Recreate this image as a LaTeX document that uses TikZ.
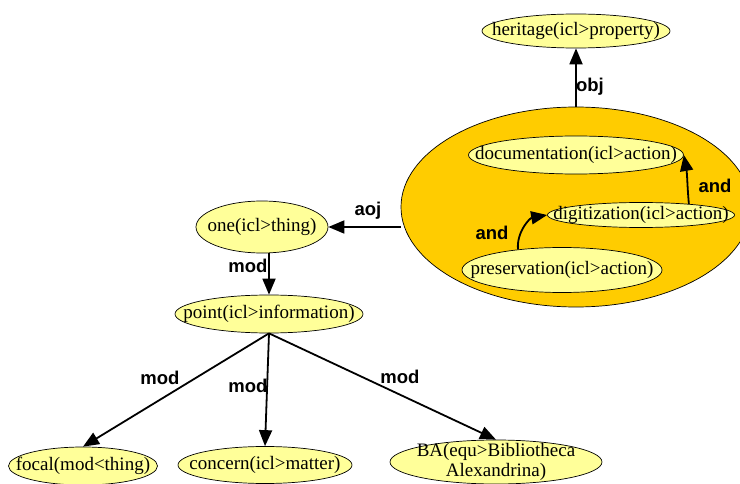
\documentclass[tikz,border=0pt]{standalone}
\usepackage{fontspec}
\setmainfont{Liberation Serif}
\newfontfamily\lblfont{Liberation Sans}
\usetikzlibrary{shapes.geometric,arrows.meta}
\definecolor{nodeyellow}{HTML}{FFFF99}
\definecolor{groupgold}{HTML}{FFCC00}
\tikzset{
  uw/.style={ellipse, draw=black, line width=0.7pt, fill=nodeyellow, inner sep=0pt},
  uwtext/.style={inner sep=0pt, align=center, font=\fontsize{19}{20.5}\selectfont},
  grp/.style={ellipse, draw=black, line width=0.7pt, fill=groupgold, inner sep=0pt},
  arr/.style={line width=1.8pt, -{Triangle[length=16pt,width=13pt]}},
  rel/.style={font=\lblfont\bfseries\fontsize{18.5}{19}\selectfont, inner sep=0pt}
}
\begin{document}
\begin{tikzpicture}[x=1pt,y=-1pt]
\useasboundingbox (0,0) rectangle (740,484);
\fill[white] (0,0) rectangle (740,484);

% compound group
\node[grp, minimum width=350pt, minimum height=200pt] (group) at (576,207) {};

% concept nodes (fixed-size ellipses, text placed at the centre)
\node[uw, minimum width=188pt, minimum height=34pt,
  label={[uwtext]center:heritage(icl>property)}] (heritage) at (576,31) {};
\node[uw, minimum width=215pt, minimum height=38pt,
  label={[uwtext]center:documentation(icl>action)}] (doc) at (576,155) {};
\node[uw, minimum width=187pt, minimum height=25pt,
  label={[uwtext]center:digitization(icl>action)}] (digit) at (641,215) {};
\node[uw, minimum width=200pt, minimum height=45pt,
  label={[uwtext]center:preservation(icl>action)}] (pres) at (562,270) {};
\node[uw, minimum width=132pt, minimum height=52pt,
  label={[uwtext]center:one(icl>thing)}] (one) at (262,227) {};
\node[uw, minimum width=188pt, minimum height=38pt,
  label={[uwtext]center:point(icl>information)}] (point) at (269,314) {};
\node[uw, minimum width=149pt, minimum height=38pt,
  label={[uwtext]center:focal(mod<thing)}] (focal) at (83,466) {};
\node[uw, minimum width=174pt, minimum height=37pt,
  label={[uwtext]center:concern(icl>matter)}] (concern) at (265,465) {};
\node[uw, minimum width=212pt, minimum height=44pt,
  label={[uwtext]center:{BA(equ>Bibliotheca\\Alexandrina)}}] (ba) at (496,462) {};

% relations
\draw[arr] (group.north) -- (heritage.south);
\draw[arr] (pres.155) to[out=95,in=190] (digit.west);
\draw[arr] (digit.13) to[out=95,in=-80] (doc.east);
\draw[arr] (group.west |- one.east) -- (one.east);
\draw[arr] (point.north |- one.south) -- (point.north);
\draw[arr] (point.south) -- (focal.north);
\draw[arr] (point.south) -- (concern.north);
\draw[arr] (point.south) -- (ba.north);

% relation labels
\node[rel] (lobj) at (590,87) {obj};
\node[rel] (land1) at (492,233) {and};
\node[rel] (land2) at (715,186) {and};
\node[rel] (laoj) at (368,211) {aoj};
\node[rel] (lmod1) at (248,266) {mod};
\node[rel] (lmod2) at (160,378) {mod};
\node[rel] (lmod3) at (248,386) {mod};
\node[rel] (lmod4) at (400,377) {mod};
\end{tikzpicture}
\end{document}
